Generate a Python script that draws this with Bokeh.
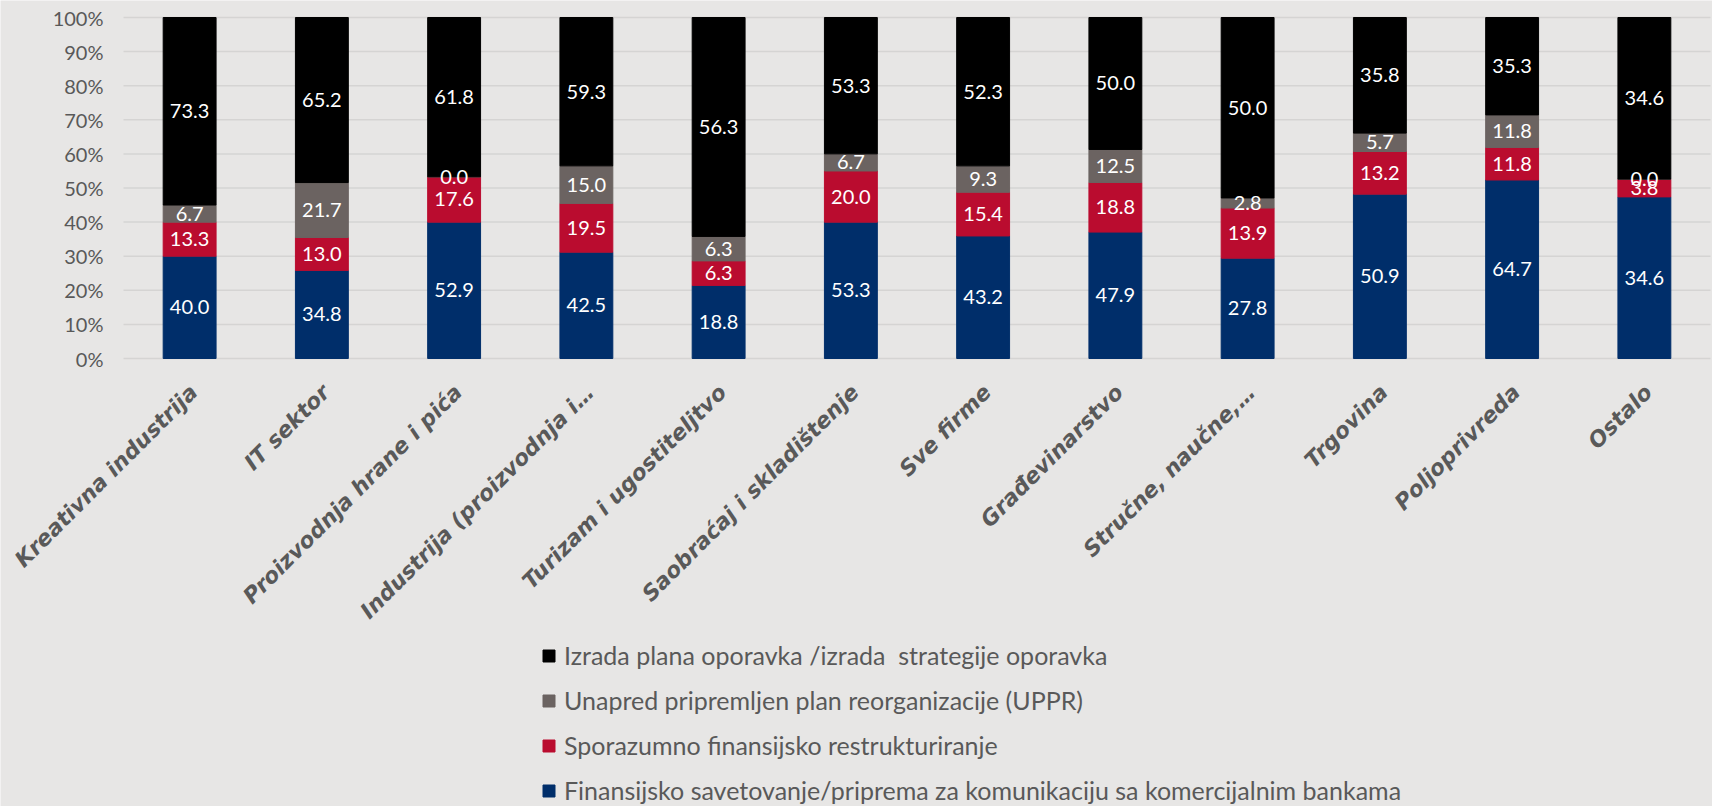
import numpy as np
from bokeh.plotting import figure
from bokeh.models import ColumnDataSource, Legend, LegendItem, Range1d
from bokeh.core.properties import value
from bokeh.embed import file_html
from bokeh.resources import INLINE
from math import pi

categories = ["Kreativna industrija", "IT sektor", "Proizvodnja hrane i pića",
              "Industrija (proizvodnja i…", "Turizam i ugostiteljtvo",
              "Saobraćaj i skladištenje", "Sve firme", "Građevinarstvo",
              "Stručne, naučne,…", "Trgovina", "Poljoprivreda", "Ostalo"]
finansijsko = [40.0, 34.8, 52.9, 42.5, 18.8, 53.3, 43.2, 47.9, 27.8, 50.9, 64.7, 34.6]
sporazumno = [13.3, 13.0, 17.6, 19.5, 6.3, 20.0, 15.4, 18.8, 13.9, 13.2, 11.8, 3.8]
uppr = [6.7, 21.7, 0.0, 15.0, 6.3, 6.7, 9.3, 12.5, 2.8, 5.7, 11.8, 0.0]
izrada = [73.3, 65.2, 61.8, 59.3, 56.3, 53.3, 52.3, 50.0, 50.0, 35.8, 35.3, 34.6]
y_ticks = [0, 10, 20, 30, 40, 50, 60, 70, 80, 90, 100]
y_tick_labels = ["0%", "10%", "20%", "30%", "40%", "50%", "60%", "70%", "80%", "90%", "100%"]

series_names = ["Finansijsko savetovanje/priprema za komunikaciju sa komercijalnim bankama",
                "Sporazumno finansijsko restrukturiranje",
                "Unapred pripremljen plan reorganizacije (UPPR)",
                "Izrada plana oporavka /izrada  strategije oporavka"]
colors = ["#002E6A", "#BA0C2F", "#6B6361", "#000000"]

raw = np.array([finansijsko, sporazumno, uppr, izrada])
totals = raw.sum(axis=0)
norm = raw / totals * 100.0
xs = np.arange(len(categories))
keys = ["s0", "s1", "s2", "s3"]
data = {"x": xs}
for k, row in zip(keys, norm):
    data[k] = row
src = ColumnDataSource(data)

BG = "#E7E6E5"
TXT = "#595959"
W, H = 1712, 806
# layout in pixels: plot band from x=123 to 1710, y=17 (100 %) to 358 (0 %)
PX_LEFT, PX_RIGHT, PX_TOP, PX_BOTTOM = 123, 1710, 17, 358
n = len(categories)
unit = (PX_RIGHT - PX_LEFT) / n
x_start = -0.5 - PX_LEFT / unit
x_end = x_start + W / unit
ppu = (PX_BOTTOM - PX_TOP) / 100.0
y_end = 100 + PX_TOP / ppu
y_start = y_end - H / ppu

p = figure(x_range=Range1d(x_start, x_end), y_range=Range1d(y_start, y_end),
           width=W, height=H, output_backend="svg", toolbar_location=None,
           x_axis_location=None, y_axis_location=None,
           background_fill_color=BG, border_fill_color=BG, outline_line_color=None,
           min_border=0)
p.xgrid.grid_line_color = None
p.ygrid.grid_line_color = None

# gridlines across the category band
p.segment(x0=[-0.5] * len(y_ticks), x1=[n - 0.5] * len(y_ticks), y0=y_ticks, y1=y_ticks,
          line_color="#D5D4D3", line_width=1.5)

renderers = p.vbar_stack(keys, x="x", width=0.4, color=colors, line_color=colors,
                         line_width=1, source=src)

# data labels
cum = np.cumsum(norm, axis=0)
for i in range(4):
    centers = cum[i] - norm[i] / 2
    lsrc = ColumnDataSource(dict(x=xs, y=centers, t=["%.1f" % v for v in raw[i]]))
    p.text(x="x", y="y", text="t", source=lsrc, text_color="white",
           text_font=value("Lato"), text_font_size="20px",
           text_align="center", text_baseline="middle")

# y tick labels
tsrc = ColumnDataSource(dict(x=[-0.5] * len(y_ticks), y=y_ticks, t=y_tick_labels))
p.text(x="x", y="y", text="t", source=tsrc, x_offset=-20,
       text_align="right", text_baseline="middle", text_color=TXT,
       text_font=value("Lato"), text_font_size="20px")

# category labels (rotated) under the 0 % line
csrc = ColumnDataSource(dict(x=xs, y=[0] * n, t=categories))
p.text(x="x", y="y", text="t", source=csrc, angle=pi / 4,
       text_align="right", text_baseline="middle", x_offset=4, y_offset=30,
       text_color=TXT, text_font=value("DejaVu Sans"), text_font_style="bold italic",
       text_font_size="22px")

items = [LegendItem(label=series_names[i], renderers=[renderers[i]]) for i in [3, 2, 1, 0]]
legend = Legend(items=items, location=(541, 1), orientation="vertical",
                background_fill_alpha=0, border_line_alpha=0,
                label_text_font="Lato", label_text_font_size="25px", label_text_color=TXT,
                glyph_width=15, glyph_height=15, label_height=30, spacing=15,
                label_standoff=8, padding=0, margin=0)
p.add_layout(legend, "center")

html = file_html(p, INLINE)
html = html.replace("<body>", '<body style="background-color:%s">' % BG, 1)
open("out.html", "w").write(html)
